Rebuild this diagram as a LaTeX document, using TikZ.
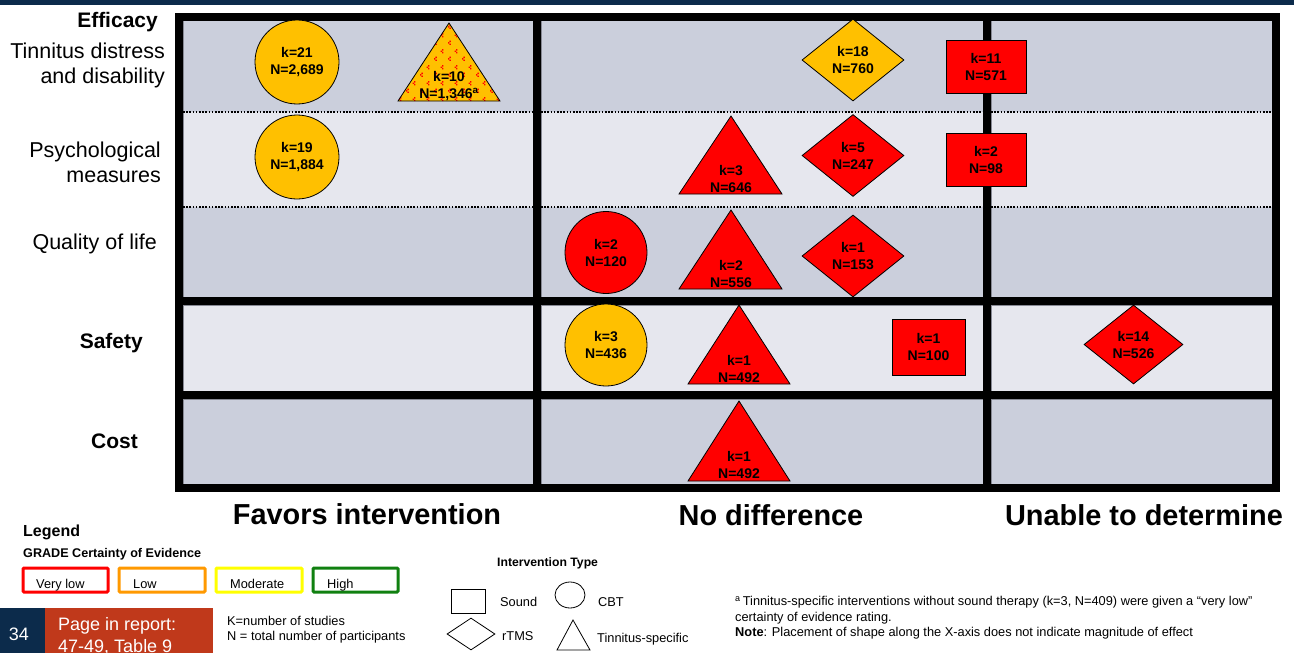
\documentclass[tikz,border=0pt]{standalone}
\usepackage{fontspec}
\setmainfont{Liberation Sans}
\usetikzlibrary{shapes.geometric,patterns.meta}

\definecolor{navy}{RGB}{12,43,75}
\definecolor{celldark}{RGB}{203,207,220}
\definecolor{celllight}{RGB}{230,231,238}
\definecolor{celledge}{RGB}{135,137,148}
\definecolor{gold}{RGB}{255,192,0}
\definecolor{vred}{RGB}{255,0,0}
\definecolor{rust}{RGB}{192,57,27}
\definecolor{lorange}{RGB}{255,153,0}
\definecolor{lyellow}{RGB}{255,255,0}
\definecolor{lgreen}{RGB}{16,128,16}

% sparse red speckles used for the downgraded tinnitus-specific estimate
\tikzdeclarepattern{
  name=speckle,
  type=colored,
  bounding box={(0pt,0pt) and (14pt,16pt)},
  tile size={(14pt,16pt)},
  code={
    \fill[vred] (1.5pt,0pt) rectangle (3pt,1.5pt);
    \fill[vred] (0pt,1.5pt) rectangle (1.5pt,3pt);
    \fill[vred] (1.5pt,3pt) rectangle (3pt,4.5pt);
    \fill[vred] (8.5pt,8pt) rectangle (10pt,9.5pt);
    \fill[vred] (7pt,9.5pt) rectangle (8.5pt,11pt);
    \fill[vred] (8.5pt,11pt) rectangle (10pt,12.5pt);
  }
}

\tikzset{
  gridrule/.style={line width=7.5pt, line cap=rect},
  cellrule/.style={draw=celledge, line width=0.8pt},
  dotrule/.style={line width=1.6pt, dash pattern=on 1.6pt off 1.6pt},
  markbox/.style={draw=black, line width=0.8pt, inner sep=0pt, align=center,
    font=\bfseries\fontsize{14}{17}\selectfont},
  cbt/.style={markbox, circle, minimum size=84pt},
  rtms/.style={markbox, diamond, minimum width=102pt, minimum height=82pt},
  sound/.style={markbox, rectangle, minimum width=80pt, minimum height=53pt},
  tinni/.style={draw=black, line width=0.8pt, line join=miter},
  marktext/.style={inner sep=0pt, align=center, font=\bfseries\fontsize{14}{17}\selectfont},
  rowlabel/.style={anchor=east, align=right, inner sep=0pt,
    font=\fontsize{21.5}{25}\selectfont},
  rowhead/.style={anchor=east, inner sep=0pt, font=\bfseries\fontsize{21}{25}\selectfont},
  colhead/.style={inner sep=0pt, font=\bfseries\fontsize{28.9}{32}\selectfont},
  gradebox/.style={line width=3pt, rounded corners=1pt},
  legtext/.style={anchor=west, inner sep=0pt, font=\fontsize{12.8}{15.5}\selectfont},
  gradetext/.style={anchor=base west, inner sep=0pt, font=\fontsize{12.8}{15.5}\selectfont},
  legshape/.style={draw=black, line width=0.8pt, inner sep=0pt},
}

\begin{document}
\begin{tikzpicture}[x=1pt,y=-1pt]
\useasboundingbox (0,0) rectangle (1294,653);
\fill[white] (0,0) rectangle (1294,653);

% header strip
\fill[navy] (0,0) rectangle (1294,5);

% cell backgrounds
\foreach \xa/\xb in {183/533,541/983,991/1272} {
  \fill[celldark]  (\xa,20)  rectangle (\xb,112);
  \fill[celllight] (\xa,112) rectangle (\xb,207);
  \fill[celldark]  (\xa,207) rectangle (\xb,297);
  \draw[cellrule]  (\xa,20)  rectangle (\xb,297);
  \fill[celllight] (\xa,305) rectangle (\xb,391);
  \draw[cellrule]  (\xa,305) rectangle (\xb,391);
  \fill[celldark]  (\xa,399) rectangle (\xb,484);
  \draw[cellrule]  (\xa,399) rectangle (\xb,484);
  \draw[dotrule] (\xa,112) -- (\xb,112);
  \draw[dotrule] (\xa,207) -- (\xb,207);
}

% heavy grid
\draw[gridrule] (179,17) rectangle (1276,488);
\draw[gridrule] (537,17) -- (537,488);
\draw[gridrule] (987,17) -- (987,488);
\draw[gridrule] (179,301) -- (1276,301);
\draw[gridrule] (179,395) -- (1276,395);

% row labels
\node[rowhead] (hEff) at (158,22) {Efficacy};
\node[rowlabel] (hTin) at (165,65) {Tinnitus distress\\and disability};
\node[rowlabel] (hPsy) at (161,162) {Psychological\\measures};
\node[rowlabel] (hQol) at (157,244) {Quality of life};
\node[rowhead] (hSaf) at (143,343) {Safety};
\node[rowhead] (hCost) at (138,441) {Cost};

% column headings
\node[colhead] (cFav) at (367,514) {Favors intervention};
\node[colhead] (cNo) at (771,515) {No difference};
\node[colhead] (cUn) at (1144,515) {Unable to determine};

% tinnitus distress and disability
\node[cbt, fill=gold] (m1) at (297,62) {k=21\\N=2,689};
\fill[gold] (398,101) -- (449,23) -- (500,101) -- cycle;
\fill[pattern=speckle] (398,101) -- (449,23) -- (500,101) -- cycle;
\draw[tinni] (398,101) -- (449,23) -- (500,101) -- cycle;
\node[marktext] (m2) at (449,86) {k=10\\N=1,346\textsuperscript{a}};
\node[rtms, fill=gold] (m3) at (853,60) {k=18\\N=760};
\node[sound, fill=vred] (m4) at (986,66.5) {k=11\\N=571};

% psychological measures
\node[cbt, fill=gold] (m5) at (297,157) {k=19\\N=1,884};
\filldraw[tinni, fill=vred] (679,194) -- (731,116) -- (782,194) -- cycle;
\node[marktext] (m6) at (731,179) {k=3\\N=646};
\node[rtms, fill=vred] (m7) at (853,155.5) {k=5\\N=247};
\node[sound, fill=vred] (m8) at (986,159.5) {k=2\\N=98};

% quality of life
\node[cbt, fill=vred, minimum size=82pt] (m9) at (606,252.5) {k=2\\N=120};
\filldraw[tinni, fill=vred] (679,289) -- (731,210) -- (782,289) -- cycle;
\node[marktext] (m10) at (731,274) {k=2\\N=556};
\node[rtms, fill=vred] (m11) at (853,256) {k=1\\N=153};

% safety
\node[cbt, fill=gold, minimum size=82pt] (m12) at (606,345) {k=3\\N=436};
\filldraw[tinni, fill=vred] (688,384) -- (739,305) -- (790,384) -- cycle;
\node[marktext] (m13) at (739,369) {k=1\\N=492};
\node[sound, fill=vred, minimum width=73pt, minimum height=56pt] (m14) at (928.5,347) {k=1\\N=100};
\node[rtms, fill=vred, minimum width=99pt, minimum height=79pt] (m15) at (1133.5,344.5) {k=14\\N=526};

% cost
\filldraw[tinni, fill=vred] (688,481) -- (739,401) -- (790,481) -- cycle;
\node[marktext] (m16) at (739,465) {k=1\\N=492};

% legend: certainty of evidence
\node[anchor=west, inner sep=0pt, font=\bfseries\fontsize{16}{19}\selectfont] (lgTitle) at (23,532) {Legend};
\node[anchor=west, inner sep=0pt, font=\bfseries\fontsize{12.6}{15}\selectfont] (lgGrade) at (23,554) {GRADE Certainty of Evidence};
\draw[gradebox, draw=vred]    (23,568) rectangle (108,592);
\draw[gradebox, draw=lorange] (119,568) rectangle (205,592);
\draw[gradebox, draw=lyellow] (216,568) rectangle (302,592);
\draw[gradebox, draw=lgreen]  (313,568) rectangle (398,592);
\node[gradetext] (gVL) at (36,588) {Very low};
\node[gradetext] (gL) at (133,588) {Low};
\node[gradetext] (gM) at (230,588) {Moderate};
\node[gradetext] (gH) at (327,588) {High};

% footer tabs
\fill[navy] (0,608) rectangle (45,653);
\fill[rust] (45,608) rectangle (213,653);
\node[inner sep=0pt, text=white, font=\fontsize{18}{21}\selectfont] (pgNum) at (19,634) {34};
\node[anchor=base west, align=left, inner sep=0pt, text=white,
  font=\fontsize{18}{22}\selectfont] (pgRef) at (58,652) {Page in report:\\47-49, Table 9};

\node[legtext] (kDef) at (227,621) {K=number of studies};
\node[legtext] (nDef) at (227,637) {N = total number of participants};

% legend: intervention type
\node[anchor=west, inner sep=0pt, font=\bfseries\fontsize{12.2}{15}\selectfont] (itTitle) at (497,563) {Intervention Type};
\node[legshape, rectangle, minimum width=34pt, minimum height=24pt] (sSq) at (468,601) {};
\node[legtext] (sSqT) at (500,602) {Sound};
\node[legshape, ellipse, minimum width=30pt, minimum height=26pt] (sCi) at (570,595) {};
\node[legtext] (sCiT) at (598,602) {CBT};
\node[legshape, diamond, minimum width=48pt, minimum height=32pt] (sDi) at (471,634) {};
\node[legtext] (sDiT) at (502,636) {rTMS};
\draw[legshape] (557,650) -- (573,620) -- (590,650) -- cycle;
\node[legtext] (sTrT) at (597,639) {Tinnitus-specific};

% footnotes
\node[anchor=west, align=left, inner sep=0pt, font=\fontsize{12.8}{15.5}\selectfont] (fn) at (735,618)
  {\textsuperscript{a}\,Tinnitus-specific interventions without sound therapy (k=3, N=409) were given a “very low”\\
   certainty of evidence rating.\\
   \textbf{Note}: Placement of shape along the X-axis does not indicate magnitude of effect};
\end{tikzpicture}
\end{document}
